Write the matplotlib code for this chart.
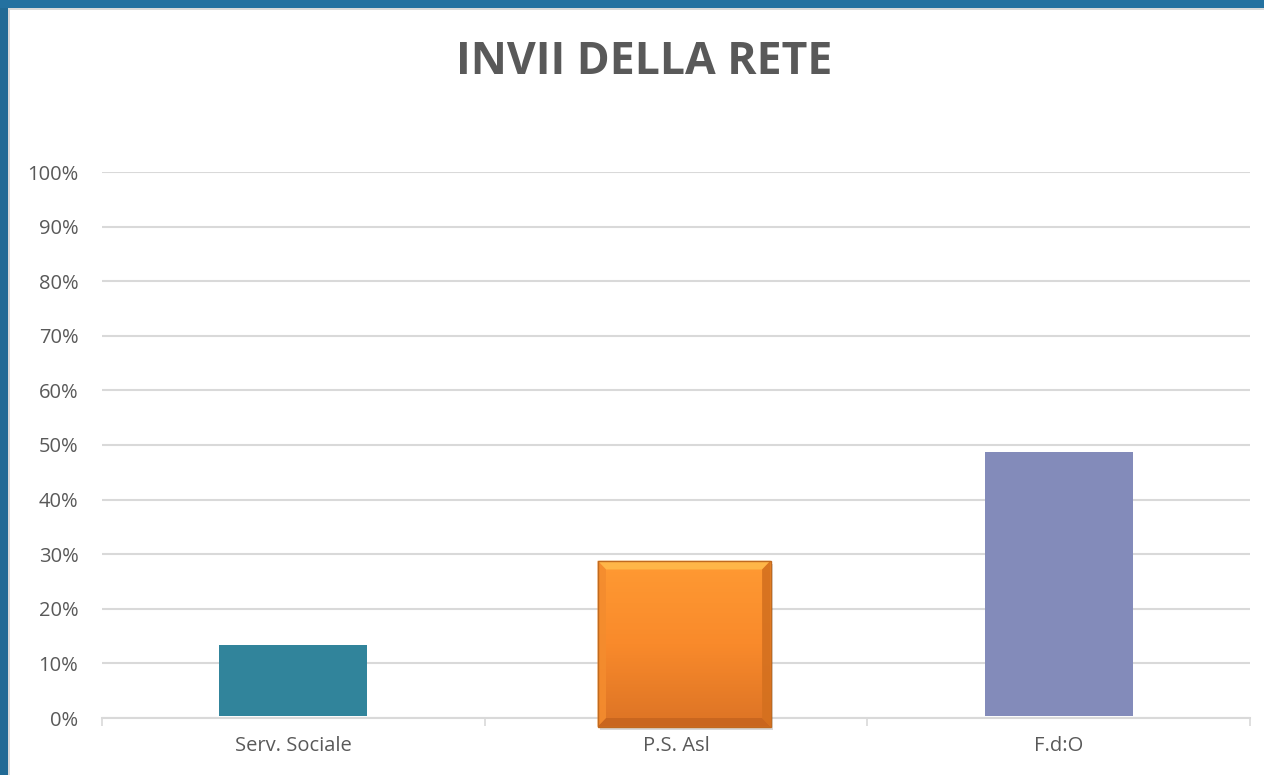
import numpy as np
import matplotlib
matplotlib.use("Agg")
import matplotlib.pyplot as plt
from matplotlib.patches import Rectangle, Polygon
from matplotlib.ticker import PercentFormatter, FixedLocator

categories = ["Serv. Sociale", "P.S. Asl", "F.d:O"]
values = [0.134, 0.288, 0.487]
colors = ["#31849b", "#f79533", "#838bba"]
yticks = np.arange(0, 1.01, 0.1)

plt.rcParams['font.family'] = ['Open Sans', 'DejaVu Sans']
grey = "#595959"

fig = plt.figure(figsize=(12.64, 7.75), dpi=100)
fig.patch.set_facecolor("white")

# blue frame left / top
fig.patches.append(Rectangle((0, 0), 8 / 1264, 1, transform=fig.transFigure,
                             facecolor="#216a95", edgecolor="none", zorder=0))
fig.patches.append(Rectangle((0, 1 - 8 / 775), 1, 8 / 775, transform=fig.transFigure,
                             facecolor="#2471a0", edgecolor="none", zorder=0))
fig.patches.append(Rectangle((8 / 1264, 0), 2 / 1264, 1 - 8 / 775, transform=fig.transFigure,
                             facecolor="#d9d9d9", edgecolor="none", zorder=0))
fig.patches.append(Rectangle((8 / 1264, 1 - 10 / 775), 1, 2 / 775, transform=fig.transFigure,
                             facecolor="#d9d9d9", edgecolor="none", zorder=0))

ax = fig.add_axes([102 / 1264, 57 / 775, 1148 / 1264, 546 / 775])
x = np.arange(len(categories))
w = 0.386

for i, (v, c) in enumerate(zip(values, colors)):
    if i == 1:
        # bevelled orange bar with vertical gradient (the 3D style is wider)
        bw = 0.452
        cx = x[i] + 0.021
        bot = -0.016
        l, r = cx - bw / 2, cx + bw / 2
        parts = []
        parts.append(ax.add_patch(Rectangle((l + 0.006, bot - 0.006), bw, v - bot,
                                            facecolor="#000000", alpha=0.15,
                                            edgecolor="none", zorder=5)))
        grad = np.linspace(0, 1, 256).reshape(-1, 1)
        cmap = matplotlib.colors.LinearSegmentedColormap.from_list(
            "o", ["#dc7325", "#f98a2b", "#ff9a33"])
        parts.append(ax.imshow(grad, extent=(l, r, bot, v), origin="lower",
                               cmap=cmap, aspect="auto", zorder=6))
        dx, dy = 0.022, 0.016
        parts.append(ax.add_patch(Polygon([(l, v), (r, v), (r - dx, v - dy), (l + dx, v - dy)],
                                          facecolor="#ffb648", edgecolor="none", zorder=7)))
        parts.append(ax.add_patch(Polygon([(l, bot), (r, bot), (r - dx, bot + dy), (l + dx, bot + dy)],
                                          facecolor="#c9661f", edgecolor="none", zorder=7)))
        parts.append(ax.add_patch(Polygon([(l, bot), (l, v), (l + dx, v - dy), (l + dx, bot + dy)],
                                          facecolor="#f48c2e", alpha=0.9, edgecolor="none", zorder=7)))
        parts.append(ax.add_patch(Polygon([(r, bot), (r, v), (r - dx, v - dy), (r - dx, bot + dy)],
                                          facecolor="#d4701f", alpha=0.9, edgecolor="none", zorder=7)))
        parts.append(ax.add_patch(Rectangle((l, bot), bw, v - bot, facecolor="none",
                                            edgecolor="#c06a20", linewidth=1.0, zorder=8)))
        for p in parts:
            p.set_clip_on(False)
    else:
        ax.bar(x[i], v - 0.003, bottom=0.003, width=w, color=c, zorder=3)

ax.set_xlim(-0.5, len(categories) - 0.5)
ax.set_ylim(0, 1)
ax.set_yticks(yticks)
ax.yaxis.set_major_formatter(PercentFormatter(1.0, decimals=0))
ax.set_xticks(x)
ax.set_xticklabels(categories)
ax.xaxis.set_minor_locator(FixedLocator(np.arange(-0.5, len(categories), 1)))
ax.tick_params(axis="x", which="major", length=0, pad=13, labelsize=14.5, labelcolor=grey)
ax.tick_params(axis="x", which="minor", length=6, color="#d9d9d9", width=1.2)
ax.tick_params(axis="y", length=0, pad=17, labelsize=14.5, labelcolor=grey)
for lbl in ax.get_yticklabels():
    lbl.set_horizontalalignment("right")

ax.grid(axis="y", color="#d9d9d9", linewidth=1.5, zorder=0)
ax.set_axisbelow(True)
for s in ["top", "right", "left"]:
    ax.spines[s].set_visible(False)
ax.spines["bottom"].set_color("#d9d9d9")
ax.spines["bottom"].set_linewidth(1.5)

fig.text(644 / 1264, 1 - 63 / 775, "INVII DELLA RETE", ha="center", va="center",
         fontsize=32, fontweight="bold", color=grey)

fig.savefig("out.png", dpi=100)
